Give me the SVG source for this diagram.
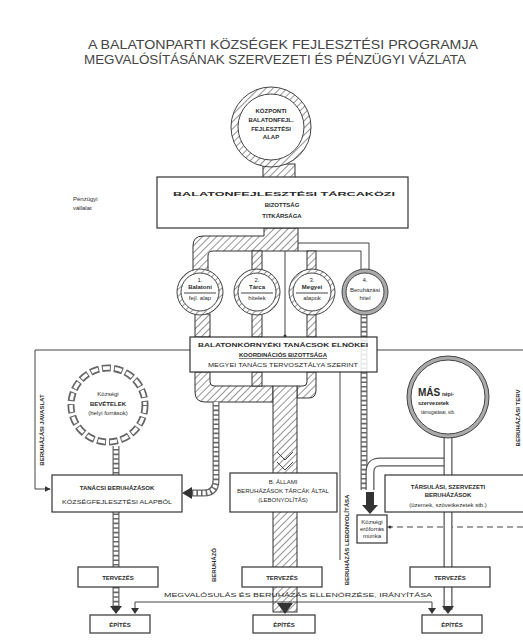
<svg xmlns="http://www.w3.org/2000/svg" width="523" height="640" viewBox="0 0 523 640">
<style>
text{font-family:"Liberation Sans","DejaVu Sans",sans-serif;fill:#2a2a2a}
.t{font-size:6px;text-anchor:middle}
.b{font-weight:bold}
.box{fill:#fff;stroke:#333;stroke-width:1.2}
.thin{fill:none;stroke:#444;stroke-width:1}
.hatch{fill:url(#hatch);stroke:#333;stroke-width:1}
.beadO{fill:none;stroke:#666;stroke-width:7}
.beadI{fill:none;stroke:#fff;stroke-width:4.5;stroke-dasharray:3 1.6}
.pipeO{fill:none;stroke:#555;stroke-width:9}
.pipeI{fill:none;stroke:#fff;stroke-width:6.5}
</style>
<defs>
<pattern id="hatch" width="5" height="5" patternUnits="userSpaceOnUse" patternTransform="rotate(45)">
<rect width="5" height="5" fill="#fff"/><line x1="0" y1="0" x2="0" y2="5" stroke="#666" stroke-width="1.4"/>
</pattern>
<marker id="arr" viewBox="0 0 10 10" refX="9" refY="5" markerWidth="6" markerHeight="6" orient="auto">
<path d="M0 0L10 5L0 10Z" fill="#333"/>
</marker>
</defs>
<rect width="523" height="640" fill="#fff"/>

<g id="title">
<text x="283" y="49" font-size="12" text-anchor="middle" textLength="390" lengthAdjust="spacingAndGlyphs" style="fill:#444">A BALATONPARTI KÖZSÉGEK FEJLESZTÉSI PROGRAMJA</text>
<text x="275" y="64" font-size="12" text-anchor="middle" textLength="382" lengthAdjust="spacingAndGlyphs" style="fill:#444">MEGVALÓSÍTÁSÁNAK SZERVEZETI ÉS PÉNZÜGYI VÁZLATA</text>
</g>

<g id="connectors">
<rect x="263" y="164" width="32" height="14" class="hatch"/>
<path d="M264 228V236H203Q193 236 193 246V272H208V256Q208 251 213 251H298V228Z" class="hatch"/>
<path d="M298 243H369V270M298 251H361V270" class="thin"/>
<rect x="252" y="251" width="10" height="19" class="hatch"/>
<rect x="307" y="251" width="9" height="19" class="hatch"/>
<line x1="285" y1="251" x2="285" y2="337" class="thin"/>
<circle cx="285" cy="336" r="1.5" fill="#333"/>
<rect x="195" y="314" width="15" height="23" class="hatch"/>
<rect x="252" y="314" width="10" height="23" class="hatch"/>
<rect x="307" y="314" width="9" height="23" class="hatch"/>
<path d="M364 314V490" class="beadO"/><path d="M364 314V490" class="beadI"/>
<path d="M195 372V392Q195 402 205 402H273V386H214Q210 386 210 382V372Z" class="hatch"/>
<rect x="252" y="372" width="10" height="14" class="hatch"/>
<path d="M307 372V382Q307 386 303 386H297V398H309Q316 398 316 390V372Z" class="hatch"/>
<rect x="273" y="386" width="24" height="226" class="hatch"/>
<path d="M277 603L285 614L293 603" fill="#333"/>
<path d="M277 452L285 460L293 452M277 462L285 470L293 462" class="thin"/>
<path d="M216 402V480Q216 493 204 493H192" class="beadO"/><path d="M216 402V480Q216 493 204 493H192" class="beadI"/>
<path d="M192 487L182 493L192 499Z" fill="#333"/>
<path d="M445 462H380Q370 462 370 472V490" class="pipeO"/><path d="M445 462H380Q370 462 370 472V490" class="pipeI"/>
<path d="M366 492H374V505H378L370 514L362 505H366Z" fill="#333"/>
<path d="M35 350H190M377 350H523" class="thin"/>
<path d="M35 350V489H50" class="thin" marker-end="url(#arr)"/>
<line x1="340" y1="372" x2="340" y2="560" class="thin"/>
<path d="M387 527H523" class="thin" stroke-dasharray="6 4"/>
<circle cx="390" cy="527" r="1.5" fill="#333"/>
<path d="M116 446V610" class="beadO"/><path d="M116 446V610" class="beadI"/>
<path d="M110 606L116 614L122 606Z" fill="#333"/>
<path d="M448 438V610" class="pipeO"/><path d="M448 438V610" class="pipeI"/>
<path d="M442 606L448 614L454 606Z" fill="#333"/>
<path d="M135 612V602H432V612" class="thin"/>
<path d="M131 608L135 614L139 608Z" fill="#333"/><path d="M428 608L432 614L436 608Z" fill="#333"/>
</g>

<g id="n-top-circle">
<circle cx="271" cy="127" r="36.5" fill="#fff" stroke="url(#hatch)" stroke-width="7"/>
<circle cx="271" cy="127" r="40" class="thin"/><circle cx="271" cy="127" r="33" class="thin"/>
<text x="271" y="113" class="t b" font-size="5">KÖZPONTI</text>
<text x="271" y="122" class="t b" font-size="5">BALATONFEJL.</text>
<text x="271" y="131" class="t b" font-size="5">FEJLESZTÉSI</text>
<text x="271" y="139" class="t b" font-size="5">ALAP</text>
</g>

<g id="n-committee">
<rect x="157" y="177" width="251" height="51" class="box"/>
<text x="284" y="196" font-size="11" class="t b" textLength="222" lengthAdjust="spacingAndGlyphs">BALATONFEJLESZTÉSI TÁRCAKÖZI</text>
<text x="282" y="207" font-size="7.5" class="t b">BIZOTTSÁG</text>
<text x="282" y="218" font-size="6.5" class="t b">TITKÁRSÁGA</text>
</g>

<g id="n-label-left">
<text x="73" y="201" font-size="6">Pénzügyi</text>
<text x="73" y="210" font-size="6">vállalat</text>
</g>

<g id="n-c1">
<circle cx="200" cy="292" r="21" fill="#fff" stroke="url(#hatch)" stroke-width="4"/>
<circle cx="200" cy="292" r="23" class="thin"/><circle cx="200" cy="292" r="19" class="thin"/>
<text x="200" y="282" class="t" font-size="4">1.</text>
<text x="200" y="289" class="t b" font-size="4">Balatoni</text>
<line x1="184" y1="293" x2="216" y2="293" class="thin"/>
<text x="200" y="300" class="t" font-size="4">fejl. alap</text>
</g>
<g id="n-c2">
<circle cx="257" cy="292" r="21" fill="#fff" stroke="url(#hatch)" stroke-width="4"/>
<circle cx="257" cy="292" r="23" class="thin"/><circle cx="257" cy="292" r="19" class="thin"/>
<text x="257" y="282" class="t" font-size="4">2.</text>
<text x="257" y="289" class="t b" font-size="4">Tárca</text>
<line x1="241" y1="293" x2="273" y2="293" class="thin"/>
<text x="257" y="300" class="t" font-size="4">hitelek</text>
</g>
<g id="n-c3">
<circle cx="312" cy="292" r="21" fill="#fff" stroke="url(#hatch)" stroke-width="4"/>
<circle cx="312" cy="292" r="23" class="thin"/><circle cx="312" cy="292" r="19" class="thin"/>
<text x="312" y="282" class="t" font-size="4">3.</text>
<text x="312" y="289" class="t b" font-size="4">Megyei</text>
<line x1="296" y1="293" x2="328" y2="293" class="thin"/>
<text x="312" y="300" class="t" font-size="4">alapok</text>
</g>
<g id="n-c4">
<circle cx="365" cy="292" r="21" fill="#fff" stroke="#aaa" stroke-width="4"/>
<circle cx="365" cy="292" r="23" class="thin"/><circle cx="365" cy="292" r="19" class="thin"/>
<text x="365" y="282" class="t" font-size="4">4.</text>
<text x="365" y="292" class="t" font-size="4">Beruházási</text>
<text x="365" y="300" class="t" font-size="4">hitel</text>
</g>

<g id="n-middle">
<rect x="190" y="337" width="187" height="35" class="box" fill-opacity="0.85"/>
<text x="283" y="347" class="t b" font-size="6" textLength="170" lengthAdjust="spacingAndGlyphs">BALATONKÖRNYÉKI TANÁCSOK ELNÖKEI</text>
<text x="283" y="357" class="t b" font-size="6" text-decoration="underline">KOORDINÁCIÓS BIZOTTSÁGA</text>
<text x="283" y="367" class="t" font-size="5.5" textLength="150" lengthAdjust="spacingAndGlyphs">MEGYEI TANÁCS TERVOSZTÁLYA SZERINT</text>
</g>

<g id="n-left-circle">
<circle cx="108" cy="405" r="37" fill="#fff" stroke="#666" stroke-width="7" stroke-dasharray="9 3"/>
<circle cx="108" cy="405" r="37" fill="none" stroke="#fff" stroke-width="3.5" stroke-dasharray="7 5" stroke-dashoffset="-1"/>
<text x="108" y="396" class="t" font-size="5">Községi</text>
<text x="108" y="406" class="t b" font-size="8">BEVÉTELEK</text>
<text x="108" y="415" class="t" font-size="4.5">(helyi források)</text>
</g>

<g id="n-right-circle">
<circle cx="448" cy="397" r="39" fill="#fff" stroke="#aaa" stroke-width="4"/>
<circle cx="448" cy="397" r="41" class="thin"/><circle cx="448" cy="397" r="37" class="thin"/>
<text x="418" y="396" font-size="10" class="b">MÁS</text>
<text x="442" y="396" font-size="5" class="b">népi-</text>
<text x="418" y="405" font-size="5.5" class="b">szervezetek</text>
<text x="421" y="414" font-size="4.5">támogatásai, stb.</text>
</g>

<g id="n-box-left">
<rect x="52" y="475" width="130" height="37" class="box"/>
<text x="117" y="490" class="t b" font-size="6.5">TANÁCSI BERUHÁZÁSOK</text>
<text x="117" y="504" class="t" font-size="5" textLength="110" lengthAdjust="spacingAndGlyphs">KÖZSÉGFEJLESZTÉSI ALAPBÓL</text>
</g>
<g id="n-box-mid">
<rect x="230" y="473" width="107" height="39" class="box"/>
<text x="283" y="484" class="t" font-size="5">B. ÁLLAMI</text>
<text x="283" y="493" class="t" font-size="5" textLength="92" lengthAdjust="spacingAndGlyphs">BERUHÁZÁSOK TÁRCÁK ÁLTAL</text>
<text x="283" y="502" class="t" font-size="5">(LEBONYOLÍTÁS)</text>
</g>
<g id="n-box-right">
<rect x="385" y="475" width="150" height="37" class="box"/>
<text x="448" y="489" class="t b" font-size="7">TÁRSULÁSI, SZERVEZETI</text>
<text x="448" y="497" class="t b" font-size="6">BERUHÁZÁSOK</text>
<text x="448" y="507" class="t" font-size="4.5">(üzemek, szövetkezetek stb.)</text>
</g>
<g id="n-small">
<rect x="357" y="515" width="30" height="28" class="box"/>
<text x="372" y="524" class="t" font-size="4">Községi</text>
<text x="372" y="531" class="t" font-size="4">erőforrás</text>
<text x="372" y="538" class="t" font-size="4">munka</text>
</g>

<g id="n-vtexts">
<text transform="translate(44 430) rotate(-90)" class="t b" font-size="5.5">BERUHÁZÁSI JAVASLAT</text>
<text transform="translate(520 418) rotate(-90)" class="t b" font-size="5.5">BERUHÁZÁSI TERV</text>
<text transform="translate(216 565) rotate(-90)" class="t b" font-size="5">BERUHÁZÓ</text>
<text transform="translate(349 540) rotate(-90)" class="t b" font-size="5">BERUHÁZÁS LEBONYOLÍTÁSA</text>
</g>

<g id="n-terv1"><rect x="78" y="567" width="80" height="20" class="box"/><text x="118" y="580" class="t b" font-size="7">TERVEZÉS</text></g>
<g id="n-terv2"><rect x="242" y="567" width="80" height="20" class="box"/><text x="282" y="580" class="t b" font-size="7">TERVEZÉS</text></g>
<g id="n-terv3"><rect x="410" y="567" width="80" height="20" class="box"/><text x="450" y="580" class="t b" font-size="7">TERVEZÉS</text></g>
<g id="n-label-bottom"><text x="298" y="597" class="t" font-size="5.5" textLength="268" lengthAdjust="spacingAndGlyphs">MEGVALÓSULÁS ÉS BERUHÁZÁS ELLENŐRZÉSE, IRÁNYÍTÁSA</text></g>
<g id="n-epit1"><rect x="90" y="615" width="60" height="18" class="box"/><text x="120" y="627" class="t b" font-size="6">ÉPÍTÉS</text></g>
<g id="n-epit2"><rect x="253" y="615" width="62" height="18" class="box"/><text x="284" y="627" class="t b" font-size="6">ÉPÍTÉS</text></g>
<g id="n-epit3"><rect x="422" y="615" width="60" height="18" class="box"/><text x="452" y="627" class="t b" font-size="6">ÉPÍTÉS</text></g>
</svg>
